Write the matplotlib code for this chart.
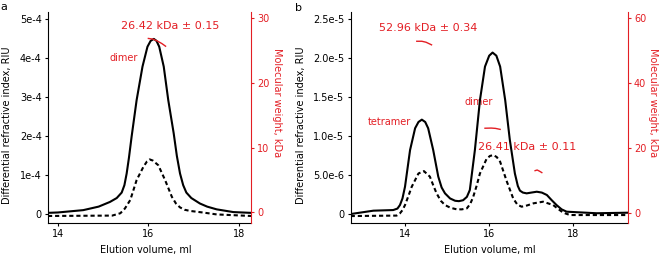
import numpy as np
import matplotlib
matplotlib.use("Agg")
import matplotlib.pyplot as plt

RED = "#e31e24"

# panel a: refractive index (solid) and second detector (dashed)
a_ri_x = [13.78, 14.00, 14.56, 14.90, 15.15, 15.30, 15.41, 15.47, 15.52, 15.57, 15.63, 15.74,
          15.87, 15.98, 16.05, 16.12, 16.18, 16.24, 16.34, 16.44, 16.56, 16.63, 16.70, 16.77,
          16.84, 16.95, 17.14, 17.30, 17.51, 17.88, 18.27]
a_ri_y = [0.04e-4, 0.05e-4, 0.11e-4, 0.2e-4, 0.32e-4, 0.42e-4, 0.56e-4, 0.75e-4, 1.05e-4, 1.45e-4,
          2.0e-4, 2.93e-4, 3.79e-4, 4.3e-4, 4.45e-4, 4.5e-4, 4.45e-4, 4.3e-4, 3.79e-4, 2.93e-4,
          2.08e-4, 1.5e-4, 1.05e-4, 0.75e-4, 0.56e-4, 0.42e-4, 0.28e-4, 0.2e-4, 0.13e-4, 0.06e-4, 0.04e-4]
a_ls_x = [13.78, 15.20, 15.38, 15.48, 15.60, 15.74, 15.89, 15.97, 16.03, 16.10, 16.22, 16.37,
          16.52, 16.61, 16.70, 16.80, 16.92, 17.20, 17.51, 18.27]
a_ls_y = [-0.04e-4, -0.03e-4, 0.03e-4, 0.15e-4, 0.37e-4, 0.88e-4, 1.22e-4, 1.36e-4, 1.41e-4, 1.38e-4,
          1.26e-4, 0.88e-4, 0.45e-4, 0.28e-4, 0.18e-4, 0.12e-4, 0.09e-4, 0.05e-4, 0.0, -0.04e-4]
a_mw_x = [16.00, 16.10, 16.20, 16.30, 16.38]
a_mw_y = [26.9, 26.8, 26.5, 26.1, 25.7]

# panel b
b_ri_x = [12.71, 13.25, 13.72, 13.82, 13.88, 13.94, 14.00, 14.12, 14.24, 14.32, 14.40, 14.48,
          14.55, 14.67, 14.79, 14.87, 14.95, 15.07, 15.19, 15.28, 15.38, 15.47, 15.54, 15.66,
          15.78, 15.90, 16.00, 16.08, 16.17, 16.26, 16.38, 16.49, 16.61, 16.68, 16.73, 16.80,
          16.89, 17.00, 17.13, 17.25, 17.37, 17.48, 17.60, 17.72, 17.84, 18.55, 19.29]
b_ri_y = [0.0, 0.43e-6, 0.51e-6, 0.7e-6, 1.15e-6, 2.0e-6, 3.5e-6, 8.2e-6, 11.0e-6, 11.8e-6,
          12.1e-6, 11.8e-6, 11.0e-6, 8.2e-6, 4.8e-6, 3.4e-6, 2.65e-6, 2.0e-6, 1.7e-6, 1.65e-6,
          1.77e-6, 2.2e-6, 3.08e-6, 8.2e-6, 14.6e-6, 18.9e-6, 20.3e-6, 20.7e-6, 20.3e-6, 18.9e-6,
          14.6e-6, 9.5e-6, 5.2e-6, 3.6e-6, 3.0e-6, 2.75e-6, 2.65e-6, 2.75e-6, 2.86e-6, 2.75e-6,
          2.44e-6, 1.8e-6, 1.15e-6, 0.6e-6, 0.3e-6, 0.1e-6, 0.17e-6]
b_ls_x = [12.71, 13.80, 13.88, 13.94, 14.00, 14.08, 14.16, 14.32, 14.45, 14.59, 14.67, 14.75,
          14.85, 14.95, 15.08, 15.23, 15.35, 15.47, 15.55, 15.62, 15.70, 15.78, 15.94, 16.02,
          16.10, 16.18, 16.26, 16.42, 16.57, 16.67, 16.77, 16.90, 17.05, 17.28, 17.52, 17.65,
          17.76, 17.92, 19.29]
b_ls_y = [-0.26e-6, -0.2e-6, 0.09e-6, 0.5e-6, 1.15e-6, 2.3e-6, 3.5e-6, 5.2e-6, 5.5e-6, 4.8e-6,
          3.7e-6, 2.65e-6, 1.7e-6, 1.15e-6, 0.8e-6, 0.6e-6, 0.6e-6, 0.73e-6, 1.3e-6, 2.2e-6,
          3.6e-6, 5.2e-6, 7.1e-6, 7.45e-6, 7.56e-6, 7.3e-6, 6.7e-6, 4.15e-6, 2.0e-6, 1.2e-6,
          0.94e-6, 1.1e-6, 1.37e-6, 1.58e-6, 1.15e-6, 0.6e-6, 0.17e-6, -0.13e-6, -0.13e-6]
b_mw1_x = [14.28, 14.40, 14.50, 14.63]
b_mw1_y = [52.9, 52.9, 52.6, 51.8]
b_mw2_x = [15.90, 16.05, 16.15, 16.26]
b_mw2_y = [26.15, 26.2, 26.1, 25.8]
b_mw3_x = [17.09, 17.14, 17.20, 17.25]
b_mw3_y = [13.1, 13.3, 12.9, 12.5]

a_yticks = [0, 1e-4, 2e-4, 3e-4, 4e-4, 5e-4]
a_ylabels = ["0", "1e-4", "2e-4", "3e-4", "4e-4", "5e-4"]
b_yticks = [0, 5e-6, 1e-5, 1.5e-5, 2e-5, 2.5e-5]
b_ylabels = ["0", "5.0e-6", "1.0e-5", "1.5e-5", "2.0e-5", "2.5e-5"]

W, H = 660, 257
fig = plt.figure(figsize=(6.6, 2.57), dpi=100)
plt.rcParams["font.size"] = 7

DASH = (0, (2.0, 1.4))


def px(x0, x1, top, bot):
    return [x0 / W, 1 - bot / H, (x1 - x0) / W, (bot - top) / H]


def panel(rect, xlim, ylim, y2lim, yticks, ylabels, y2ticks):
    ax = fig.add_axes(rect)
    ax2 = ax.twinx()
    ax.set_xlim(*xlim)
    ax.set_ylim(*ylim)
    ax2.set_ylim(*y2lim)
    ax.set_xticks([14, 16, 18])
    ax.set_yticks(yticks)
    ax.set_yticklabels(ylabels)
    ax2.set_yticks(y2ticks)
    for s in ["top", "right"]:
        ax.spines[s].set_visible(False)
    for s in ["top", "left", "bottom"]:
        ax2.spines[s].set_visible(False)
    ax2.spines["right"].set_color(RED)
    ax.tick_params(length=2.5, width=0.8, pad=2, labelsize=7)
    ax2.tick_params(length=2.5, width=0.8, pad=2, labelsize=7, colors=RED)
    return ax, ax2


def note(ax, ax2, x, y, s, size):
    ax.text(x, y, s, transform=ax2.transData, color=RED, fontsize=size,
            ha="center", va="center", zorder=1)


# ---- panel a
ax, ax2 = panel(px(48, 251, 12, 223), (13.78, 18.27), (-2.2e-5, 5.19e-4), (-1.7, 31.0),
                a_yticks, a_ylabels, [0, 10, 20, 30])
ax.plot(a_ri_x, a_ri_y, color="black", lw=1.5, zorder=3)
ax.plot(a_ls_x, a_ls_y, color="black", lw=1.5, ls=DASH, zorder=3)
ax2.plot(a_mw_x, a_mw_y, color=RED, lw=1.0)
note(ax, ax2, 16.48, 28.9, "26.42 kDa ± 0.15", 8)
note(ax, ax2, 15.45, 23.9, "dimer", 7)

# ---- panel b
bx, bx2 = panel(px(350.7, 627.7, 12, 223), (12.71, 19.29), (-1.15e-6, 2.59e-5), (-3.0, 61.9),
                b_yticks, b_ylabels, [0, 20, 40, 60])
bx.plot(b_ri_x, b_ri_y, color="black", lw=1.5, zorder=3)
bx.plot(b_ls_x, b_ls_y, color="black", lw=1.5, ls=DASH, zorder=3)
for mx, my in [(b_mw1_x, b_mw1_y), (b_mw2_x, b_mw2_y), (b_mw3_x, b_mw3_y)]:
    bx2.plot(mx, my, color=RED, lw=1.0)
note(bx, bx2, 14.54, 56.9, "52.96 kDa ± 0.34", 8)
note(bx, bx2, 13.63, 28.2, "tetramer", 7)
note(bx, bx2, 15.75, 34.2, "dimer", 7)
note(bx, bx2, 16.91, 20.5, "26.41 kDa ± 0.11", 8)

# axis labels and panel letters, placed by pixel position
def ftext(x, y, s, size=7, **kw):
    fig.text(x / W, 1 - y / H, s, ha="center", va="center", fontsize=size, **kw)

ftext(7, 125, "Differential refractive index, RIU", rotation=90)
ftext(277, 103, "Molecular weight, kDa", rotation=270, color=RED)
ftext(146, 250.5, "Elution volume, ml")
ftext(301, 125, "Differential refractive index, RIU", rotation=90)
ftext(653, 103, "Molecular weight, kDa", rotation=270, color=RED)
ftext(490, 250.5, "Elution volume, ml")
ftext(4, 7, "a", size=8)
ftext(298, 8, "b", size=8)

fig.savefig("out.png", dpi=100)
